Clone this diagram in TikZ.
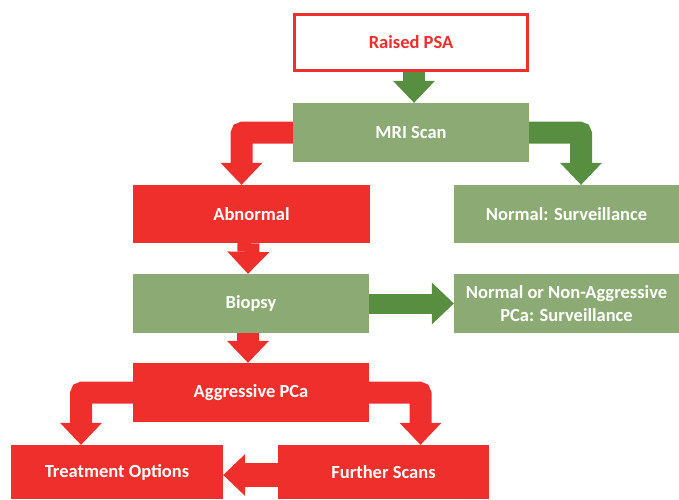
\documentclass[tikz,border=0pt]{standalone}
\usepackage{fontspec}
\setmainfont{Carlito}
\usetikzlibrary{arrows.meta}

\definecolor{pcared}{HTML}{EE2F2C}
\definecolor{boxgreen}{HTML}{8CAA73}
\definecolor{arrgreen}{HTML}{578E3F}

\tikzset{
  box/.style={inner sep=0pt, align=center, text=white,
    font=\fontsize{18.5}{23}\selectfont\bfseries},
  redbox/.style={box, fill=pcared},
  greenbox/.style={box, fill=boxgreen},
  blockarrow/.style={line width=22pt,
    -{Triangle[length=22pt,width=42pt,line width=0pt]}},
  redarrow/.style={blockarrow, draw=pcared},
  greenarrow/.style={blockarrow, draw=arrgreen},
}

\begin{document}
\begin{tikzpicture}[x=1pt,y=-1pt]
    \useasboundingbox (0,0) rectangle (679,499);
    % top of the pathway
    \node[box, draw=pcared, line width=3pt, fill=white, text=pcared,
      minimum width=233pt, minimum height=56pt] (psa) at (411,42.5) {Raised PSA};
    \node[greenbox, minimum width=236pt, minimum height=59pt] (mri) at (411,132.5) {MRI Scan};
    % after the scan
    \node[redbox, minimum width=237pt, minimum height=58pt] (abn) at (251.5,214) {Abnormal};
    \node[greenbox, minimum width=225pt, minimum height=58pt] (normal) at (566.5,214) {Normal: Surveillance};
    \node[greenbox, minimum width=236pt, minimum height=59pt] (biopsy) at (251,303.5) {Biopsy};
    \node[greenbox, minimum width=225pt, minimum height=59pt] (nonagg) at (566.5,303.5) {Normal or Non-Aggressive\\PCa: Surveillance};
    % aggressive branch
    \node[redbox, minimum width=236pt, minimum height=59pt] (aggr) at (251,392.5) {Aggressive PCa};
    \node[redbox, minimum width=212pt, minimum height=54pt] (treat) at (117,472) {Treatment Options};
    \node[redbox, minimum width=211pt, minimum height=54pt] (further) at (383.5,472) {Further Scans};

    % arrows
    \draw[greenarrow] ([xshift=3pt]psa.south) -- ([xshift=3pt]mri.north);
    \draw[redarrow, rounded corners=2pt] (mri.west) -| ([xshift=-10pt]abn.north);
    \draw[greenarrow, rounded corners=2pt] (mri.east) -| ([xshift=14.5pt]normal.north);
    \draw[redarrow] ([xshift=-3pt]abn.south) -- ([xshift=-3pt]biopsy.north);
    \draw[greenarrow, line width=20pt] (biopsy.east) -- (nonagg.west);
    \draw[redarrow] ([xshift=-3pt]biopsy.south) -- ([xshift=-3pt]aggr.north);
    \draw[redarrow, rounded corners=2pt] (aggr.west) -| ([xshift=-36pt]treat.north);
    \draw[redarrow, rounded corners=2pt] (aggr.east) -| ([xshift=37pt]further.north);
    \draw[redarrow, line width=24pt] ([yshift=-3pt]further.west) -- ([yshift=-3pt]treat.east);
\end{tikzpicture}
\end{document}
